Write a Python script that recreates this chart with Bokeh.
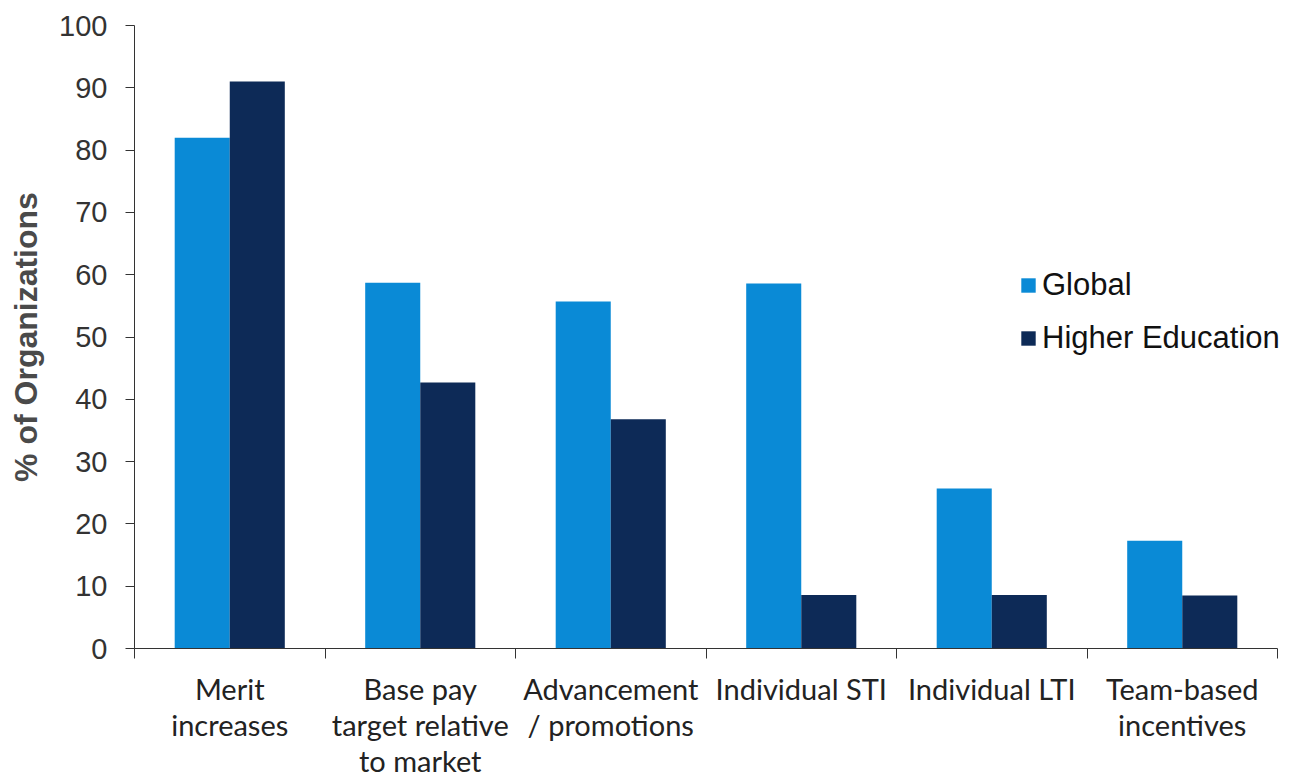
from bokeh.plotting import figure
from bokeh.models import (ColumnDataSource, Range1d, FixedTicker, Legend, LegendItem)
from bokeh.transform import dodge
from bokeh.embed import file_html
from bokeh.resources import INLINE

# ---- data ----
categories = ["Merit\nincreases", "Base pay\ntarget relative\nto market", "Advancement\n/ promotions",
              "Individual STI", "Individual LTI", "Team-based\nincentives"]
global_vals = [82.0, 58.7, 55.7, 58.6, 25.7, 17.3]
higher_ed_vals = [91.0, 42.7, 36.8, 8.6, 8.6, 8.5]
series_names = ["Global", "Higher Education"]
y_ticks = [0, 10, 20, 30, 40, 50, 60, 70, 80, 90, 100]

GLOBAL_COLOR = "#0A8AD6"
HE_COLOR = "#0D2A57"

n = len(categories)
centers = [i + 0.5 for i in range(n)]
bounds = [i for i in range(n + 1)]

source = ColumnDataSource(dict(x=centers, g=global_vals, h=higher_ed_vals))

# frame spans to the right edge; the axis line itself stops at the last category boundary
p = figure(width=1295, height=780, output_backend="svg", toolbar_location=None,
           x_range=Range1d(0, n * 1161 / 1143), y_range=Range1d(0, 100),
           min_border_left=134, min_border_right=0, min_border_top=25, min_border_bottom=132)
p.outline_line_color = None
p.grid.visible = False
p.background_fill_color = "white"
p.border_fill_color = "white"

bw = 0.289
r1 = p.vbar(x=dodge("x", -bw / 2, range=p.x_range), top="g", width=bw, source=source,
            fill_color=GLOBAL_COLOR, line_color=None)
r2 = p.vbar(x=dodge("x", bw / 2, range=p.x_range), top="h", width=bw, source=source,
            fill_color=HE_COLOR, line_color=None)

# y axis
ya = p.yaxis[0]
ya.ticker = FixedTicker(ticks=y_ticks, minor_ticks=[])
ya.axis_line_color = "#333333"
ya.major_tick_line_color = "#333333"
ya.major_tick_out = 9
ya.major_tick_in = 0
ya.major_label_standoff = 18
ya.major_label_text_font = "Liberation Sans"
ya.major_label_text_font_size = "29px"
ya.major_label_text_color = "#333333"
ya.axis_label = "% of Organizations"
ya.axis_label_text_font = "Liberation Sans"
ya.axis_label_text_font_size = "32px"
ya.axis_label_text_font_style = "bold"
ya.axis_label_text_color = "#4a4a4a"
ya.axis_label_standoff = 12

# x axis
xa = p.xaxis[0]
xa.bounds = (0, n)
xa.ticker = FixedTicker(ticks=centers, minor_ticks=bounds)
xa.major_label_overrides = {c: lab for c, lab in zip(centers, categories)}
xa.axis_line_color = "#333333"
xa.major_tick_out = 0
xa.major_tick_in = 0
xa.minor_tick_out = 10
xa.minor_tick_in = 0
xa.minor_tick_line_color = "#333333"
xa.major_label_standoff = 12
xa.major_label_text_font = "Lato"
xa.major_label_text_font_size = "29px"
xa.major_label_text_color = "#222222"
xa.major_label_text_line_height = 1.03

legend = Legend(items=[LegendItem(label=series_names[0], renderers=[r1]),
                       LegendItem(label=series_names[1], renderers=[r2])],
                location=(885, 292), orientation="vertical")
legend.glyph_width = 18
legend.glyph_height = 18
legend.label_standoff = 5
legend.label_text_font = "Liberation Sans"
legend.label_text_font_size = "31px"
legend.label_text_color = "#111111"
legend.label_height = 31
legend.spacing = 17
legend.padding = 0
legend.margin = 0
legend.border_line_color = None
legend.background_fill_alpha = 0
p.add_layout(legend, "center")

open("out.html", "w").write(file_html(p, INLINE))
